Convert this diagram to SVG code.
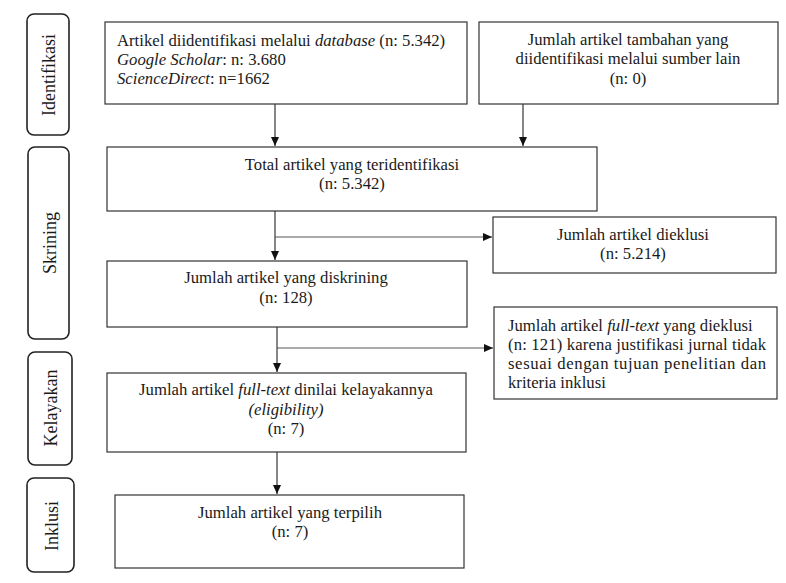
<svg xmlns="http://www.w3.org/2000/svg" width="786" height="583" viewBox="0 0 786 583">
<style>
  .box{fill:#fff;stroke:#333;stroke-width:1.2}
  .side{fill:#fff;stroke:#222;stroke-width:1.6}
  .c{text-anchor:middle}
  .st{text-anchor:middle;dominant-baseline:central}
  .conn line{stroke:#222;stroke-width:1.1}
  .conn .br{stroke:#555;stroke-width:1}
</style>
<defs>
  <marker id="ah" markerWidth="10" markerHeight="10" refX="9" refY="5" orient="auto" markerUnits="userSpaceOnUse">
    <path d="M0,1 L9,5 L0,9 Z" fill="#111"/>
  </marker>
</defs>
<rect width="786" height="583" fill="#fff"/>
<g font-family="Liberation Serif, serif" font-size="16.7" fill="#1a1a1a">
<g id="side-identifikasi">
  <rect class="side" x="27" y="14" width="42" height="121" rx="7"/>
  <text class="st" font-size="18" transform="translate(49,75) rotate(-90)">Identifikasi</text>
</g>
<g id="side-skrining">
  <rect class="side" x="28" y="147" width="41" height="192" rx="7"/>
  <text class="st" font-size="18" transform="translate(50,243) rotate(-90)">Skrining</text>
</g>
<g id="side-kelayakan">
  <rect class="side" x="28" y="352" width="44" height="113" rx="7"/>
  <text class="st" font-size="18" transform="translate(51,408) rotate(-90)">Kelayakan</text>
</g>
<g id="side-inklusi">
  <rect class="side" x="27" y="478" width="47" height="94" rx="7"/>
  <text class="st" font-size="18" transform="translate(52,526) rotate(-90)">Inklusi</text>
</g>

<g id="connectors" class="conn">
  <line x1="275" y1="104" x2="275" y2="146" marker-end="url(#ah)"/>
  <line x1="523" y1="104" x2="523" y2="146" marker-end="url(#ah)"/>
  <line x1="275" y1="211" x2="275" y2="260" marker-end="url(#ah)"/>
  <line class="br" x1="275" y1="237" x2="492" y2="237" marker-end="url(#ah)"/>
  <line x1="277" y1="327" x2="277" y2="372" marker-end="url(#ah)"/>
  <line class="br" x1="277" y1="348" x2="493" y2="348" marker-end="url(#ah)"/>
  <line x1="277" y1="452" x2="277" y2="494" marker-end="url(#ah)"/>
</g>

<g id="n-database">
  <rect class="box" x="105" y="22" width="362" height="82"/>
  <text x="117" y="46">Artikel diidentifikasi melalui <tspan font-style="italic">database</tspan> (n: 5.342)</text>
  <text x="117" y="65"><tspan font-style="italic">Google Scholar</tspan>: n: 3.680</text>
  <text x="117" y="84"><tspan font-style="italic">ScienceDirect</tspan>: n=1662</text>
</g>
<g id="n-lain">
  <rect class="box" x="479" y="22" width="299" height="82"/>
  <text class="c" x="628" y="45">Jumlah artikel tambahan yang</text>
  <text class="c" x="628" y="64">diidentifikasi melalui sumber lain</text>
  <text class="c" x="628" y="84">(n: 0)</text>
</g>
<g id="n-total">
  <rect class="box" x="107" y="147" width="490" height="64"/>
  <text class="c" x="352" y="170">Total artikel yang teridentifikasi</text>
  <text class="c" x="352" y="189">(n: 5.342)</text>
</g>
<g id="n-dieklusi">
  <rect class="box" x="493" y="217" width="283" height="56"/>
  <text class="c" x="633" y="240">Jumlah artikel dieklusi</text>
  <text class="c" x="633" y="259">(n: 5.214)</text>
</g>
<g id="n-diskrining">
  <rect class="box" x="107" y="261" width="360" height="66"/>
  <text class="c" x="286" y="283">Jumlah artikel yang diskrining</text>
  <text class="c" x="286" y="303">(n: 128)</text>
</g>
<g id="n-fulltext-eksklusi">
  <rect class="box" x="494" y="307" width="283" height="92"/>
  <text x="508" y="331">Jumlah artikel <tspan font-style="italic">full-text</tspan> yang dieklusi</text>
  <text x="508" y="350" textLength="258" lengthAdjust="spacing">(n: 121) karena justifikasi jurnal tidak</text>
  <text x="508" y="369" textLength="258" lengthAdjust="spacing">sesuai dengan tujuan penelitian dan</text>
  <text x="508" y="388">kriteria inklusi</text>
</g>
<g id="n-eligibility">
  <rect class="box" x="107" y="373" width="359" height="79"/>
  <text class="c" x="286" y="395">Jumlah artikel <tspan font-style="italic">full-text</tspan> dinilai kelayakannya</text>
  <text class="c" x="286" y="415" font-style="italic">(eligibility)</text>
  <text class="c" x="286" y="434">(n: 7)</text>
</g>
<g id="n-terpilih">
  <rect class="box" x="115" y="495" width="349" height="73"/>
  <text class="c" x="290" y="518">Jumlah artikel yang terpilih</text>
  <text class="c" x="290" y="537">(n: 7)</text>
</g>
</g>
</svg>
